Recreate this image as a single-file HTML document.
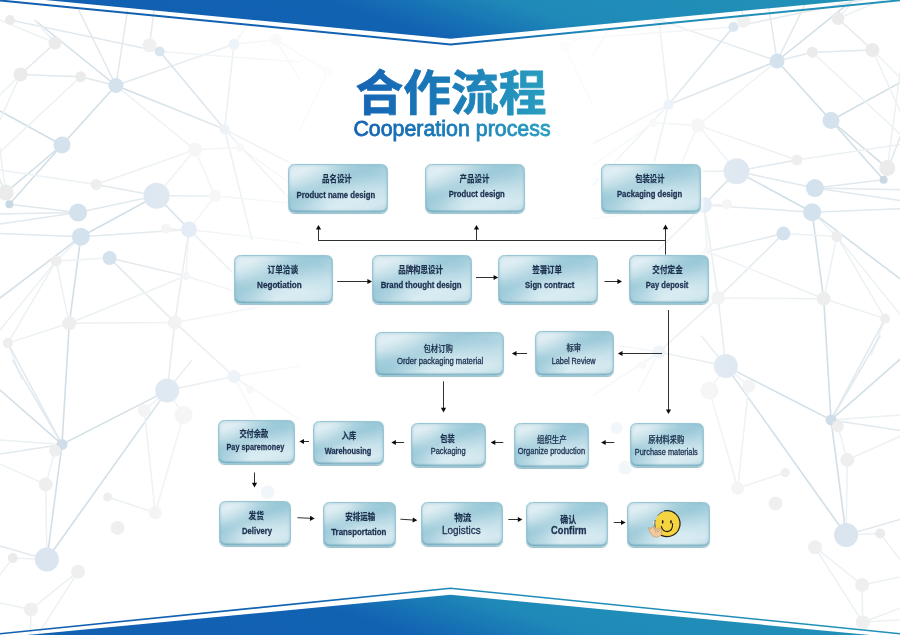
<!DOCTYPE html>
<html lang="zh"><head><meta charset="utf-8"><title>合作流程 Cooperation process</title>
<style>
html,body{margin:0;padding:0;background:#fff;}
body{width:900px;height:635px;position:relative;overflow:hidden;font-family:"Liberation Sans",sans-serif;}
svg{position:absolute;left:0;top:0;}
svg text{font-family:"Liberation Sans",sans-serif;}
svg text.cjk{font-family:"Liberation Sans","Noto Sans CJK SC",sans-serif;}
#fg{will-change:transform;}
.box{position:absolute;box-sizing:border-box;border-radius:6.5px;border:1px solid #98c6d4;
 background:radial-gradient(ellipse 55% 60% at 88% 18%,rgba(140,192,210,.55),rgba(140,192,210,0)),radial-gradient(ellipse 40% 55% at 2% 98%,rgba(140,192,210,.6),rgba(140,192,210,0)),radial-gradient(ellipse 45% 55% at 12% 12%,rgba(255,255,255,.28),rgba(255,255,255,0)),linear-gradient(157deg,#d2e7ee 0%,#d4e8ef 14%,#acd3df 34%,#a9d1dd 42%,#cfe6ee 58%,#d9ecf2 70%,#d3e8ef 86%,#bcdce6 100%);
 box-shadow:inset 0 -1.5px 1px rgba(85,150,172,.55),inset 0 0 3px rgba(120,180,198,.5),0 .6px .8px rgba(80,140,160,.55),0 0 3px 1.5px rgba(255,255,255,.9);}
</style></head>
<body>
<svg id="bg" width="900" height="635" viewBox="0 0 900 635">
<defs>
<linearGradient id="bt" x1="0" y1="0" x2="90" y2="-270" gradientUnits="userSpaceOnUse"><stop offset="0" stop-color="#1160b2"/><stop offset="0.36" stop-color="#1262b2"/><stop offset="0.46" stop-color="#1875b5"/><stop offset="0.56" stop-color="#1f8ab8"/><stop offset="1" stop-color="#2292b8"/></linearGradient>
<linearGradient id="bb" x1="-55" y1="588" x2="35" y2="318" gradientUnits="userSpaceOnUse"><stop offset="0" stop-color="#1160b2"/><stop offset="0.36" stop-color="#1262b2"/><stop offset="0.46" stop-color="#1875b5"/><stop offset="0.56" stop-color="#1f8ab8"/><stop offset="1" stop-color="#2292b8"/></linearGradient>
<linearGradient id="fade" x1="120" y1="0" x2="780" y2="0" gradientUnits="userSpaceOnUse">
<stop offset="0" stop-color="#fff" stop-opacity="0"/><stop offset="0.25" stop-color="#fff" stop-opacity="0.55"/><stop offset="0.42" stop-color="#fff" stop-opacity="0.95"/><stop offset="0.58" stop-color="#fff" stop-opacity="0.95"/><stop offset="0.75" stop-color="#fff" stop-opacity="0.55"/><stop offset="1" stop-color="#fff" stop-opacity="0"/></linearGradient>
<g id="net" stroke-width="1" fill="none">
<line x1="115.9" y1="85.5" x2="62" y2="145" stroke="#d2dfe7" stroke-width="1.6"/>
<line x1="62" y1="145" x2="9.4" y2="204.3" stroke="#d2dfe7" stroke-width="1.6"/>
<line x1="34.6" y1="20" x2="115.9" y2="85.5" stroke="#d2dfe7" stroke-width="1.6"/>
<line x1="78.7" y1="10" x2="115.9" y2="85.5" stroke="#e1e9ee" stroke-width="1.5"/>
<line x1="115.9" y1="85.5" x2="127.6" y2="10" stroke="#e1e9ee" stroke-width="1.5"/>
<line x1="115.9" y1="85.5" x2="234" y2="44.3" stroke="#e1e9ee" stroke-width="1.5"/>
<line x1="115.9" y1="85.5" x2="224.6" y2="129.3" stroke="#d2dfe7" stroke-width="1.6"/>
<line x1="224.6" y1="129.3" x2="300" y2="168" stroke="#e1e9ee" stroke-width="1.5"/>
<line x1="159.7" y1="51.5" x2="224.6" y2="129.3" stroke="#d2dfe7" stroke-width="1.6"/>
<line x1="224.6" y1="129.3" x2="300" y2="210" stroke="#e1e9ee" stroke-width="1.5"/>
<line x1="149.6" y1="45.2" x2="154" y2="10" stroke="#e1e9ee" stroke-width="1.5"/>
<line x1="10" y1="20" x2="159.7" y2="51.5" stroke="#e1e9ee" stroke-width="1.5"/>
<line x1="55.1" y1="43" x2="20.5" y2="74.5" stroke="#e1e9ee" stroke-width="1.5"/>
<line x1="20.5" y1="74.5" x2="80.6" y2="76.7" stroke="#e1e9ee" stroke-width="1.5"/>
<line x1="80.6" y1="76.7" x2="115.9" y2="85.5" stroke="#e1e9ee" stroke-width="1.5"/>
<line x1="62" y1="145" x2="-9" y2="106.1" stroke="#d2dfe7" stroke-width="1.6"/>
<line x1="62" y1="145" x2="5.7" y2="192.6" stroke="#d2dfe7" stroke-width="1.6"/>
<line x1="80.6" y1="76.7" x2="-9" y2="160.4" stroke="#ecf1f4" stroke-width="1.5"/>
<line x1="115.9" y1="85.5" x2="195" y2="149.8" stroke="#ecf1f4" stroke-width="1.5"/>
<line x1="195" y1="149.8" x2="215.1" y2="196" stroke="#ecf1f4" stroke-width="1.5"/>
<line x1="96.1" y1="184.5" x2="156.5" y2="195.7" stroke="#e1e9ee" stroke-width="1.5"/>
<line x1="96.1" y1="184.5" x2="195" y2="149.8" stroke="#ecf1f4" stroke-width="1.5"/>
<line x1="156.5" y1="195.7" x2="78.1" y2="212.6" stroke="#e1e9ee" stroke-width="1.5"/>
<line x1="156.5" y1="195.7" x2="195" y2="149.8" stroke="#ecf1f4" stroke-width="1.5"/>
<line x1="156.5" y1="195.7" x2="215.1" y2="196" stroke="#e1e9ee" stroke-width="1.5"/>
<line x1="215.1" y1="196" x2="300" y2="204" stroke="#ecf1f4" stroke-width="1.5"/>
<line x1="78.1" y1="212.6" x2="9.4" y2="204.3" stroke="#e1e9ee" stroke-width="1.5"/>
<line x1="78.1" y1="212.6" x2="-9" y2="214.2" stroke="#e1e9ee" stroke-width="1.5"/>
<line x1="78.1" y1="212.6" x2="-9" y2="225.3" stroke="#e1e9ee" stroke-width="1.5"/>
<line x1="234" y1="44.3" x2="224.6" y2="129.3" stroke="#e1e9ee" stroke-width="1.5"/>
<line x1="224.6" y1="129.3" x2="252" y2="240" stroke="#e1e9ee" stroke-width="1.5"/>
<line x1="20.5" y1="74.5" x2="-9" y2="140.0" stroke="#ecf1f4" stroke-width="1.5"/>
<line x1="55.1" y1="43" x2="-9" y2="16.2" stroke="#ecf1f4" stroke-width="1.5"/>
<line x1="156.5" y1="195.7" x2="80.9" y2="236.7" stroke="#d2dfe7" stroke-width="1.6"/>
<line x1="80.9" y1="236.7" x2="-9" y2="304.8" stroke="#d2dfe7" stroke-width="1.6"/>
<line x1="156.5" y1="195.7" x2="189" y2="229.4" stroke="#d2dfe7" stroke-width="1.6"/>
<line x1="189" y1="229.4" x2="234.6" y2="274.5" stroke="#e1e9ee" stroke-width="1.5"/>
<line x1="80.9" y1="236.7" x2="-9" y2="233.1" stroke="#e1e9ee" stroke-width="1.5"/>
<line x1="80.9" y1="236.7" x2="189" y2="229.4" stroke="#e1e9ee" stroke-width="1.5"/>
<line x1="80.9" y1="236.7" x2="69.3" y2="323.3" stroke="#d2dfe7" stroke-width="1.6"/>
<line x1="69.3" y1="323.3" x2="62" y2="444.4" stroke="#d2dfe7" stroke-width="1.6"/>
<line x1="56.1" y1="260.9" x2="69.3" y2="323.3" stroke="#ecf1f4" stroke-width="1.5"/>
<line x1="109.6" y1="258.1" x2="185.8" y2="276" stroke="#e1e9ee" stroke-width="1.5"/>
<line x1="185.8" y1="276" x2="234.6" y2="291" stroke="#ecf1f4" stroke-width="1.5"/>
<line x1="109.6" y1="258.1" x2="174.8" y2="322.4" stroke="#e1e9ee" stroke-width="1.5"/>
<line x1="174.8" y1="322.4" x2="234" y2="376.5" stroke="#e1e9ee" stroke-width="1.5"/>
<line x1="189" y1="229.4" x2="174.8" y2="322.4" stroke="#e1e9ee" stroke-width="1.5"/>
<line x1="174.8" y1="322.4" x2="167.2" y2="390.6" stroke="#e1e9ee" stroke-width="1.5"/>
<line x1="189" y1="229.4" x2="300" y2="243" stroke="#ecf1f4" stroke-width="1.5"/>
<line x1="69.3" y1="323.3" x2="174.8" y2="322.4" stroke="#ecf1f4" stroke-width="1.5"/>
<line x1="69.3" y1="323.3" x2="7.9" y2="343.1" stroke="#ecf1f4" stroke-width="1.5"/>
<line x1="69.3" y1="323.3" x2="185.8" y2="276" stroke="#ecf1f4" stroke-width="1.5"/>
<line x1="7.9" y1="343.1" x2="22" y2="380" stroke="#ecf1f4" stroke-width="1.5"/>
<line x1="96.1" y1="184.5" x2="-9" y2="168.6" stroke="#ecf1f4" stroke-width="1.5"/>
<line x1="56.1" y1="260.9" x2="80.9" y2="236.7" stroke="#ecf1f4" stroke-width="1.5"/>
<line x1="56.1" y1="260.9" x2="-9" y2="341.1" stroke="#ecf1f4" stroke-width="1.5"/>
<line x1="167.2" y1="390.6" x2="62" y2="444.4" stroke="#d2dfe7" stroke-width="1.6"/>
<line x1="167.2" y1="390.6" x2="46.9" y2="559.5" stroke="#d2dfe7" stroke-width="1.6"/>
<line x1="167.2" y1="390.6" x2="234" y2="376.5" stroke="#e1e9ee" stroke-width="1.5"/>
<line x1="234" y1="376.5" x2="300" y2="366" stroke="#ecf1f4" stroke-width="1.5"/>
<line x1="167.2" y1="390.6" x2="192" y2="360" stroke="#e1e9ee" stroke-width="1.5"/>
<line x1="144.3" y1="410.4" x2="155.3" y2="512.8" stroke="#ecf1f4" stroke-width="1.5"/>
<line x1="183.6" y1="415.1" x2="155.3" y2="512.8" stroke="#ecf1f4" stroke-width="1.5"/>
<line x1="62" y1="444.4" x2="-9" y2="382.1" stroke="#d2dfe7" stroke-width="1.6"/>
<line x1="12.6" y1="360" x2="62" y2="444.4" stroke="#e1e9ee" stroke-width="1.5"/>
<line x1="62" y1="444.4" x2="46.9" y2="559.5" stroke="#d2dfe7" stroke-width="1.6"/>
<line x1="62" y1="444.4" x2="-9" y2="455.4" stroke="#e1e9ee" stroke-width="1.5"/>
<line x1="62" y1="444.4" x2="-9" y2="439.4" stroke="#ecf1f4" stroke-width="1.5"/>
<line x1="55.1" y1="450.7" x2="45.7" y2="484.4" stroke="#ecf1f4" stroke-width="1.5"/>
<line x1="45.7" y1="484.4" x2="-9" y2="460.0" stroke="#ecf1f4" stroke-width="1.5"/>
<line x1="107.7" y1="497" x2="155.3" y2="512.8" stroke="#ecf1f4" stroke-width="1.5"/>
<line x1="46.9" y1="559.5" x2="-9" y2="543.4" stroke="#e1e9ee" stroke-width="1.5"/>
<line x1="234" y1="376.5" x2="255" y2="417" stroke="#ecf1f4" stroke-width="1.5"/>
<line x1="78" y1="571.7" x2="30.9" y2="609.4" stroke="#ecf1f4" stroke-width="1.5"/>
<line x1="30.9" y1="609.4" x2="-9" y2="601.1" stroke="#ecf1f4" stroke-width="1.5"/>
<line x1="30.9" y1="609.4" x2="30.3" y2="646.8" stroke="#ecf1f4" stroke-width="1.5"/>
<line x1="78" y1="571.7" x2="30.3" y2="646.8" stroke="#ecf1f4" stroke-width="1.5"/>
<line x1="30.3" y1="646.8" x2="-9" y2="632.0" stroke="#ecf1f4" stroke-width="1.5"/>
<line x1="30.3" y1="646.8" x2="-9" y2="644.0" stroke="#ecf1f4" stroke-width="1.5"/>
<line x1="46.9" y1="559.5" x2="12.8" y2="558" stroke="#ecf1f4" stroke-width="1.5"/>
<line x1="12.8" y1="558" x2="-9" y2="587.0" stroke="#ecf1f4" stroke-width="1.5"/>
<line x1="7.9" y1="343.1" x2="62" y2="444.4" stroke="#e1e9ee" stroke-width="1.5"/>
<line x1="174.8" y1="322.4" x2="265" y2="306" stroke="#ecf1f4" stroke-width="1.5"/>
<line x1="159.7" y1="51.5" x2="300" y2="62" stroke="#ecf1f4" stroke-width="1.5"/>
<line x1="234" y1="44.3" x2="275.6" y2="39.5" stroke="#ecf1f4" stroke-width="1.5"/>
<line x1="234" y1="44.3" x2="258" y2="10" stroke="#ecf1f4" stroke-width="1.5"/>
<line x1="275.6" y1="39.5" x2="300" y2="80" stroke="#ecf1f4" stroke-width="1.5"/>
<line x1="20.5" y1="74.5" x2="-9" y2="104.0" stroke="#ecf1f4" stroke-width="1.5"/>
<line x1="55.1" y1="43" x2="34.6" y2="20" stroke="#ecf1f4" stroke-width="1.5"/>
<line x1="9.4" y1="204.3" x2="-9" y2="156.7" stroke="#e1e9ee" stroke-width="1.5"/>
<line x1="5.7" y1="192.6" x2="-9" y2="82.7" stroke="#ecf1f4" stroke-width="1.5"/>
<line x1="195" y1="149.8" x2="240" y2="147.6" stroke="#ecf1f4" stroke-width="1.5"/>
<line x1="240" y1="147.6" x2="300" y2="190" stroke="#ecf1f4" stroke-width="1.5"/>
<line x1="215.1" y1="196" x2="189" y2="229.4" stroke="#ecf1f4" stroke-width="1.5"/>
<line x1="166" y1="228.8" x2="189" y2="229.4" stroke="#ecf1f4" stroke-width="1.5"/>
<line x1="109.6" y1="258.1" x2="56.1" y2="260.9" stroke="#ecf1f4" stroke-width="1.5"/>
<line x1="56.1" y1="260.9" x2="7.9" y2="343.1" stroke="#ecf1f4" stroke-width="1.5"/>
<line x1="185.8" y1="276" x2="189" y2="229.4" stroke="#ecf1f4" stroke-width="1.5"/>
<line x1="234" y1="376.5" x2="300" y2="420" stroke="#ecf1f4" stroke-width="1.5"/>
<line x1="144.3" y1="410.4" x2="167.2" y2="390.6" stroke="#ecf1f4" stroke-width="1.5"/>
<line x1="183.6" y1="415.1" x2="167.2" y2="390.6" stroke="#ecf1f4" stroke-width="1.5"/>
<line x1="45.7" y1="484.4" x2="46.9" y2="559.5" stroke="#ecf1f4" stroke-width="1.5"/>
<line x1="250.4" y1="389.3" x2="234" y2="376.5" stroke="#ecf1f4" stroke-width="1.5"/>
<line x1="328" y1="71.6" x2="275.6" y2="39.5" stroke="#ecf1f4" stroke-width="1.5"/>
<line x1="328" y1="71.6" x2="300" y2="130" stroke="#ecf1f4" stroke-width="1.5"/>
<circle cx="115.9" cy="85.5" r="7.5" fill="#d3e2ed"/>
<circle cx="62" cy="145" r="8.5" fill="#d3e2ed"/>
<circle cx="156.5" cy="195.7" r="13" fill="#dae5f0"/>
<circle cx="78.1" cy="212.6" r="9" fill="#d3e2ed"/>
<circle cx="9.4" cy="204.3" r="4" fill="#c8d8e5"/>
<circle cx="5.7" cy="192.6" r="8" fill="#ebebeb"/>
<circle cx="20.5" cy="74.5" r="7" fill="#ebebeb"/>
<circle cx="55.1" cy="43" r="6.5" fill="#ebebeb"/>
<circle cx="80.6" cy="76.7" r="5.5" fill="#ebebeb"/>
<circle cx="149.6" cy="45.2" r="7" fill="#efefef"/>
<circle cx="159.7" cy="51.5" r="5" fill="#d3e2ed"/>
<circle cx="234" cy="44.3" r="5.5" fill="#e2ecf4"/>
<circle cx="224.6" cy="129.3" r="5" fill="#e2ecf4"/>
<circle cx="195" cy="149.8" r="7" fill="#f3f3f4"/>
<circle cx="96.1" cy="184.5" r="5.5" fill="#eeeeee"/>
<circle cx="215.1" cy="196" r="6" fill="#f3f3f4"/>
<circle cx="10" cy="20" r="5" fill="#ebebeb"/>
<circle cx="240" cy="147.6" r="4" fill="#f3f3f4"/>
<circle cx="275.6" cy="39.5" r="6" fill="#f3f3f4"/>
<circle cx="80.9" cy="236.7" r="9" fill="#d3e2ed"/>
<circle cx="189" cy="229.4" r="8" fill="#dce7f2"/>
<circle cx="109.6" cy="258.1" r="7" fill="#d3e2ed"/>
<circle cx="56.1" cy="260.9" r="5.5" fill="#eeeeee"/>
<circle cx="166" cy="228.8" r="5" fill="#f3f3f4"/>
<circle cx="69.3" cy="323.3" r="7" fill="#eeeeee"/>
<circle cx="174.8" cy="322.4" r="7" fill="#f0f0f0"/>
<circle cx="7.9" cy="343.1" r="5" fill="#eeeeee"/>
<circle cx="185.8" cy="276" r="4" fill="#f3f3f4"/>
<circle cx="234" cy="376.5" r="6.5" fill="#e2ecf4"/>
<circle cx="167.2" cy="390.6" r="12" fill="#dae5f0"/>
<circle cx="62" cy="444.4" r="5.5" fill="#cfdde8"/>
<circle cx="55.1" cy="450.7" r="6" fill="#eeeeee"/>
<circle cx="45.7" cy="484.4" r="7" fill="#eeeeee"/>
<circle cx="144.3" cy="410.4" r="6.5" fill="#f3f3f4"/>
<circle cx="183.6" cy="415.1" r="9" fill="#f3f3f4"/>
<circle cx="250.4" cy="389.3" r="4" fill="#f3f3f4"/>
<circle cx="107.7" cy="497" r="4.5" fill="#efefef"/>
<circle cx="155.3" cy="512.8" r="6.5" fill="#f3f3f4"/>
<circle cx="117.5" cy="527.9" r="7" fill="#efefef"/>
<circle cx="46.9" cy="559.5" r="12" fill="#dae5f0"/>
<circle cx="267.7" cy="492.3" r="7" fill="#e5eef6"/>
<circle cx="12.8" cy="558" r="5" fill="#ebebeb"/>
<circle cx="78" cy="571.7" r="7" fill="#efefef"/>
<circle cx="276.5" cy="452.5" r="6" fill="#e2ecf4"/>
<circle cx="328" cy="71.6" r="5" fill="#f1f5f9"/>
<circle cx="30.9" cy="609.4" r="7" fill="#efefef"/>
<circle cx="30.3" cy="646.8" r="7" fill="#efefef"/>
</g>
</defs>
<use href="#net"/>
<use href="#net" transform="translate(893,-24.5) scale(-1,1)"/>
<rect x="120" y="0" width="660" height="635" fill="url(#fade)"/>
<polygon points="0,0 45,0 450.6,38.7 857,0 900,0" fill="url(#bt)"/>
<polyline points="-10,-0.5 450.6,44.6 905,-0.2" fill="none" stroke="url(#bt)" stroke-width="2"/>
<polygon points="27,635 450.6,594.8 870,635" fill="url(#bb)"/>
<polyline points="-10,634.8 450.6,588.2 910,634.8" fill="none" stroke="url(#bb)" stroke-width="1.6"/>
</svg>
<div class="box" style="left:287.6px;top:164.0px;width:100.4px;height:49.2px"></div>
<div class="box" style="left:425.0px;top:164.0px;width:100.3px;height:49.2px"></div>
<div class="box" style="left:600.7px;top:164.0px;width:100.2px;height:49.2px"></div>
<div class="box" style="left:233.5px;top:254.7px;width:99.4px;height:49.0px"></div>
<div class="box" style="left:371.8px;top:254.6px;width:100.0px;height:49.1px"></div>
<div class="box" style="left:497.8px;top:254.6px;width:100.0px;height:49.1px"></div>
<div class="box" style="left:629.4px;top:254.6px;width:79.7px;height:49.1px"></div>
<div class="box" style="left:375.4px;top:332.1px;width:128.5px;height:44.4px"></div>
<div class="box" style="left:534.7px;top:330.9px;width:79.8px;height:45.0px"></div>
<div class="box" style="left:217.7px;top:419.6px;width:77.0px;height:44.6px"></div>
<div class="box" style="left:312.5px;top:421.1px;width:71.7px;height:43.6px"></div>
<div class="box" style="left:410.5px;top:422.7px;width:75.2px;height:44.6px"></div>
<div class="box" style="left:514.3px;top:423.3px;width:74.7px;height:44.9px"></div>
<div class="box" style="left:630.0px;top:422.6px;width:74.3px;height:44.3px"></div>
<div class="box" style="left:219.2px;top:501.1px;width:71.9px;height:45.0px"></div>
<div class="box" style="left:322.5px;top:502.1px;width:73.1px;height:44.7px"></div>
<div class="box" style="left:421.0px;top:501.6px;width:81.7px;height:44.9px"></div>
<div class="box" style="left:525.6px;top:501.8px;width:82.8px;height:44.9px"></div>
<div class="box" style="left:627.0px;top:502.0px;width:82.8px;height:45.3px"></div>
<svg id="fg" width="900" height="635" viewBox="0 0 900 635">
<defs>
<linearGradient id="tg" x1="353" y1="0" x2="551" y2="0" gradientUnits="userSpaceOnUse">
<stop offset="0" stop-color="#1563b3"/><stop offset="0.5" stop-color="#1b7cb8"/><stop offset="1" stop-color="#2a9fc0"/></linearGradient>
<linearGradient id="tg2" x1="0" y1="0" x2="197.7" y2="0" gradientUnits="userSpaceOnUse"><stop offset="0" stop-color="#1563b3"/><stop offset="0.5" stop-color="#1b7cb8"/><stop offset="1" stop-color="#2a9fc0"/></linearGradient>
</defs>
<g fill="url(#tg)" stroke="url(#tg)" stroke-width="0.8" stroke-linejoin="round"><text class="cjk" x="355.4" y="109.9" font-size="47.8" font-weight="bold" textLength="191.2" lengthAdjust="spacingAndGlyphs">合作流程</text></g>
<text transform="translate(353.40,136.2) scale(0.9994,1)" font-size="21.4" fill="url(#tg2)" stroke="url(#tg2)" stroke-width="0.8">Cooperation process</text>
<g stroke="#303030" stroke-width="1" fill="#0c0c0c">
<line x1="665.5" y1="254.6" x2="665.50" y2="228.20"/><polygon points="665.50,224.60 668.10,229.20 662.90,229.20" stroke="none"/>
<line x1="318.5" y1="240.5" x2="666" y2="240.5"/>
<line x1="318.5" y1="240.9" x2="318.50" y2="228.60"/><polygon points="318.50,225.00 321.10,229.60 315.90,229.60" stroke="none"/>
<line x1="476.5" y1="240.9" x2="476.50" y2="228.60"/><polygon points="476.50,225.00 479.10,229.60 473.90,229.60" stroke="none"/>
<line x1="337.2" y1="281.5" x2="368.40" y2="281.50"/><polygon points="372.00,281.50 367.40,284.10 367.40,278.90" stroke="none"/>
<line x1="476" y1="277.5" x2="494.60" y2="277.50"/><polygon points="498.20,277.50 493.60,280.10 493.60,274.90" stroke="none"/>
<line x1="604.5" y1="281.5" x2="618.40" y2="281.50"/><polygon points="622.00,281.50 617.40,284.10 617.40,278.90" stroke="none"/>
<line x1="668.5" y1="310" x2="668.50" y2="410.40"/><polygon points="668.50,414.00 665.90,409.40 671.10,409.40" stroke="none"/>
<line x1="662" y1="353.5" x2="621.50" y2="353.50"/><polygon points="617.90,353.50 622.50,350.90 622.50,356.10" stroke="none"/>
<line x1="527.1" y1="353.5" x2="515.50" y2="353.50"/><polygon points="511.90,353.50 516.50,350.90 516.50,356.10" stroke="none"/>
<line x1="443.5" y1="381.3" x2="443.50" y2="408.80"/><polygon points="443.50,412.40 440.90,407.80 446.10,407.80" stroke="none"/>
<line x1="614.3" y1="442.5" x2="604.70" y2="442.50"/><polygon points="601.10,442.50 605.70,439.90 605.70,445.10" stroke="none"/>
<line x1="503.3" y1="442.5" x2="494.30" y2="442.50"/><polygon points="490.70,442.50 495.30,439.90 495.30,445.10" stroke="none"/>
<line x1="404.1" y1="442.5" x2="394.90" y2="442.50"/><polygon points="391.30,442.50 395.90,439.90 395.90,445.10" stroke="none"/>
<line x1="309" y1="441.5" x2="303.00" y2="441.50"/><polygon points="299.40,441.50 304.00,438.90 304.00,444.10" stroke="none"/>
<line x1="254.5" y1="472.5" x2="254.50" y2="483.80"/><polygon points="254.50,487.40 251.90,482.80 257.10,482.80" stroke="none"/>
<line x1="297.4" y1="517.7" x2="311.00" y2="518.33"/><polygon points="314.60,518.50 309.88,520.88 310.13,515.69" stroke="none"/>
<line x1="400.4" y1="519.2" x2="413.71" y2="520.07"/><polygon points="417.30,520.30 412.54,522.60 412.88,517.41" stroke="none"/>
<line x1="508.3" y1="519.5" x2="518.80" y2="519.50"/><polygon points="522.40,519.50 517.80,522.10 517.80,516.90" stroke="none"/>
<line x1="613.8" y1="522.5" x2="622.00" y2="522.50"/><polygon points="625.60,522.50 621.00,525.10 621.00,519.90" stroke="none"/>
</g>
<g fill="#1b2e4b" stroke="#1b2e4b" stroke-width="0.2" font-size="9.3">
<text class="cjk" transform="translate(322.08,182.33) scale(0.7978,1)" font-weight="bold">品名设计</text>
<text class="cjk" transform="translate(459.52,182.23) scale(0.8022,1)" font-weight="bold">产品设计</text>
<text class="cjk" transform="translate(635.22,182.23) scale(0.7882,1)" font-weight="bold">包装设计</text>
<text class="cjk" transform="translate(267.56,272.63) scale(0.8237,1)" font-weight="bold">订单洽谈</text>
<text class="cjk" transform="translate(398.18,272.78) scale(0.8022,1)" font-weight="bold">品牌构思设计</text>
<text class="cjk" transform="translate(532.21,272.63) scale(0.8022,1)" font-weight="bold">签署订单</text>
<text class="cjk" transform="translate(652.36,272.63) scale(0.8183,1)" font-weight="bold">交付定金</text>
<text class="cjk" transform="translate(423.48,352.03) scale(0.7925,1)" font-weight="500">包材订购</text>
<text class="cjk" transform="translate(566.55,350.93) scale(0.7860,1)" font-weight="500">标审</text>
<text class="cjk" transform="translate(239.38,436.73) scale(0.7785,1)" font-weight="bold">交付余款</text>
<text class="cjk" transform="translate(341.77,439.13) scale(0.7753,1)" font-weight="bold">入库</text>
<text class="cjk" transform="translate(440.22,442.43) scale(0.7731,1)" font-weight="bold">包装</text>
<text class="cjk" transform="translate(537.02,443.13) scale(0.7978,1)" font-weight="500">组织生产</text>
<text class="cjk" transform="translate(648.19,443.28) scale(0.7774,1)" font-weight="500">原材料采购</text>
<text class="cjk" transform="translate(248.55,519.43) scale(0.8301,1)" font-weight="bold">发货</text>
<text class="cjk" transform="translate(345.26,520.08) scale(0.8075,1)" font-weight="bold">安排运输</text>
<text class="cjk" transform="translate(454.25,521.13) scale(0.9269,1)" font-weight="bold">物流</text>
<text class="cjk" transform="translate(560.22,522.68) scale(0.8570,1)" font-weight="bold">确认</text>
</g>
<g fill="#1d3050">
<text transform="translate(296.50,197.60) scale(0.8805,1)" font-size="8.8" font-weight="bold" stroke="#1d3050" stroke-width="0.28">Product name design</text>
<text transform="translate(448.70,197.40) scale(0.8772,1)" font-size="8.8" font-weight="bold" stroke="#1d3050" stroke-width="0.28">Product design</text>
<text transform="translate(617.00,197.40) scale(0.8725,1)" font-size="8.8" font-weight="bold" stroke="#1d3050" stroke-width="0.28">Packaging design</text>
<text transform="translate(257.00,288.30) scale(0.9277,1)" font-size="8.8" font-weight="bold" stroke="#1d3050" stroke-width="0.28">Negotiation</text>
<text transform="translate(380.70,288.30) scale(0.8859,1)" font-size="8.8" font-weight="bold" stroke="#1d3050" stroke-width="0.28">Brand thought design</text>
<text transform="translate(525.10,288.30) scale(0.8767,1)" font-size="8.8" font-weight="bold" stroke="#1d3050" stroke-width="0.28">Sign contract</text>
<text transform="translate(645.70,288.30) scale(0.8642,1)" font-size="8.8" font-weight="bold" stroke="#1d3050" stroke-width="0.28">Pay deposit</text>
<text transform="translate(397.00,363.90) scale(0.8723,1)" font-size="8.8" font-weight="normal" stroke="#1d3050" stroke-width="0.3">Order packaging material</text>
<text transform="translate(551.70,364.40) scale(0.8307,1)" font-size="8.8" font-weight="normal" stroke="#1d3050" stroke-width="0.3">Label Review</text>
<text transform="translate(226.50,450.20) scale(0.8262,1)" font-size="8.8" font-weight="bold" stroke="#1d3050" stroke-width="0.28">Pay sparemoney</text>
<text transform="translate(324.70,453.70) scale(0.8430,1)" font-size="8.8" font-weight="bold" stroke="#1d3050" stroke-width="0.28">Warehousing</text>
<text transform="translate(430.70,454.00) scale(0.8492,1)" font-size="8.8" font-weight="normal" stroke="#1d3050" stroke-width="0.3">Packaging</text>
<text transform="translate(517.80,454.40) scale(0.8493,1)" font-size="8.8" font-weight="normal" stroke="#1d3050" stroke-width="0.3">Organize production</text>
<text transform="translate(634.80,454.80) scale(0.8363,1)" font-size="8.8" font-weight="normal" stroke="#1d3050" stroke-width="0.3">Purchase materials</text>
<text transform="translate(242.00,534.40) scale(0.8764,1)" font-size="8.8" font-weight="bold" stroke="#1d3050" stroke-width="0.28">Delivery</text>
<text transform="translate(331.20,535.40) scale(0.8961,1)" font-size="8.8" font-weight="bold" stroke="#1d3050" stroke-width="0.28">Transportation</text>
<text transform="translate(442.00,534.40) scale(0.9974,1)" font-size="10" font-weight="normal" stroke="#1d3050" stroke-width="0.3">Logistics</text>
<text transform="translate(551.10,534.40) scale(0.9283,1)" font-size="10" font-weight="bold" stroke="#1d3050" stroke-width="0.28">Confirm</text>
</g>
<g id="smiley">
<circle cx="654.6" cy="522.5" r="1.6" fill="#fff" opacity=".8"/>
<circle cx="667.6" cy="523.8" r="12.5" fill="#f5d441"/>
<path d="M657.5 515.8 A12.9 12.9 0 0 1 663.5 511.4" fill="none" stroke="#2a2418" stroke-width="0.6"/>
<path d="M664.5 510.9 A13 13 0 1 1 661.5 535.4" fill="none" stroke="#2a2418" stroke-width="1.25" stroke-linecap="round"/>
<path d="M655.2 520 A12.9 12.9 0 0 0 655.4 527.5" fill="none" stroke="#2a2418" stroke-width="0.7"/>
<ellipse cx="662.7" cy="521.8" rx="0.85" ry="1.9" fill="#221c10"/>
<ellipse cx="671" cy="521.8" rx="0.85" ry="1.9" fill="#221c10"/>
<path d="M661.3 526.3 Q662.6 531.6 667.5 531.6 Q672.8 531.2 672.6 523.6" fill="none" stroke="#221c10" stroke-width="1.1" stroke-linecap="round"/>
<path d="M648.3 527.6 L651.2 528.6 L652.8 526.4 L654.4 526.9 L655.6 529.4 Q658.6 526.8 661.2 528.9 Q662.6 532.8 660.4 535.8 Q657 538.4 653.2 536.6 Q649.8 533.4 648.3 527.6Z" fill="#f3c99c" stroke="#b98a58" stroke-width="0.5" stroke-linejoin="round"/>
<path d="M655.6 529.4 Q655 531.5 656.3 533.3 M652.8 526.4 Q653.4 528.6 655 530" fill="none" stroke="#b98a58" stroke-width="0.45"/>
<circle cx="658.2" cy="530.7" r="1.15" fill="#e6d59c" stroke="#a87f4e" stroke-width="0.45"/>
</g>
</svg>
</body></html>
